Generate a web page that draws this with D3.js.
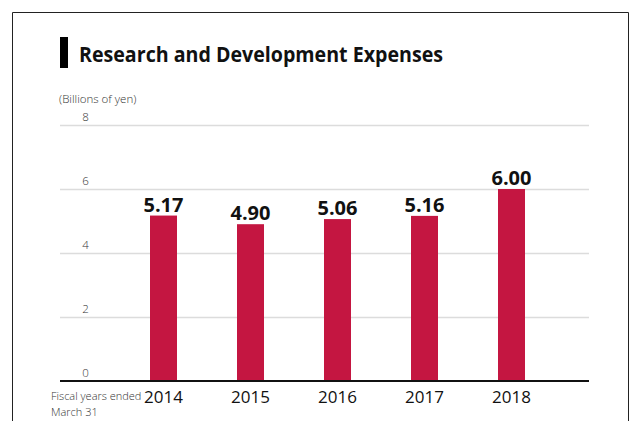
<!DOCTYPE html>
<meta charset="utf-8">
<style>
body { margin: 0; background: #fff; }
text { font-family: "Open Sans", "Noto Sans", sans-serif; }
.grid line { stroke: #dcdcdc; stroke-width: 1.5px; }
.grid .domain { display: none; }
.tick-label { fill: #333; font-size: 11.5px; font-weight: 300; }
.note-label { fill: #333; font-size: 11px; font-weight: 300; }
.year-label { fill: #111; font-size: 17px; }
.value-label { fill: #111; font-size: 20px; font-weight: 700; }
</style>
<body>
<svg id="chart" width="630" height="421"></svg>
<script src="https://d3js.org/d3.v7.min.js"></script>
<script>

var years = ["2014", "2015", "2016", "2017", "2018"];
var expenses = [5.17, 4.90, 5.06, 5.16, 6.00];
var yTicks = [0, 2, 4, 6, 8];

var svg = d3.select("#chart");

// frame (left, top, right only - bottom is cut off)
svg.append("path")
	.attr("d", "M12.5,421V12.5H628.5V421")
	.attr("fill", "none")
	.attr("stroke", "#222")
	.attr("stroke-width", 1);

// title
svg.append("rect")
	.attr("x", 60).attr("y", 37)
	.attr("width", 8).attr("height", 31)
	.attr("fill", "#000");

svg.append("text")
	.attr("x", 79).attr("y", 62)
	.style("font-size", "21.5px")
	.style("font-weight", 700)
	.attr("fill", "#111")
	.attr("textLength", 364)
	.attr("lengthAdjust", "spacingAndGlyphs")
	.text("Research and Development Expenses");

var x = d3.scalePoint().domain(years).range([163.5, 511.5]);
var y = d3.scaleLinear().domain([0, 8]).range([381, 125]);

svg.append("text")
	.attr("class", "tick-label")
	.attr("x", 59).attr("y", 103)
	.text("(Billions of yen)");

// gridlines
svg.append("g")
	.attr("class", "grid")
	.attr("transform", "translate(60,0)")
	.call(d3.axisLeft(y).tickValues(yTicks.filter(function(d) { return d > 0; })).tickSize(-529).tickFormat(""));

// tick labels
svg.append("g").selectAll("text")
	.data(yTicks)
	.join("text")
	.attr("class", "tick-label")
	.attr("x", 85.5)
	.attr("y", function(d) { return y(d) - 4; })
	.attr("text-anchor", "middle")
	.text(function(d) { return d; });

// bars
var bw = 27;
svg.append("g").selectAll("rect")
	.data(expenses)
	.join("rect")
	.attr("x", function(d, i) { return x(years[i]) - bw / 2; })
	.attr("y", function(d) { return y(d); })
	.attr("width", bw)
	.attr("height", function(d) { return y(0) - y(d); })
	.attr("fill", "#c41641");

svg.append("g").selectAll("text")
	.data(expenses)
	.join("text")
	.attr("class", "value-label")
	.attr("x", function(d, i) { return x(years[i]); })
	.attr("y", function(d) { return y(d) - 4; })
	.attr("text-anchor", "middle")
	.text(function(d) { return d.toFixed(2); });

// baseline
svg.append("line")
	.attr("x1", 60).attr("x2", 589)
	.attr("y1", y(0)).attr("y2", y(0))
	.attr("stroke", "#111")
	.attr("stroke-width", 2);

// x labels
svg.append("g").selectAll("text")
	.data(years)
	.join("text")
	.attr("class", "year-label")
	.attr("x", function(d) { return x(d); })
	.attr("y", 403)
	.attr("text-anchor", "middle")
	.text(function(d) { return d; });

svg.append("text")
	.attr("class", "note-label")
	.attr("x", 51).attr("y", 400)
	.text("Fiscal years ended");
svg.append("text")
	.attr("class", "note-label")
	.attr("x", 51).attr("y", 416)
	.text("March 31");

</script>
</body>
